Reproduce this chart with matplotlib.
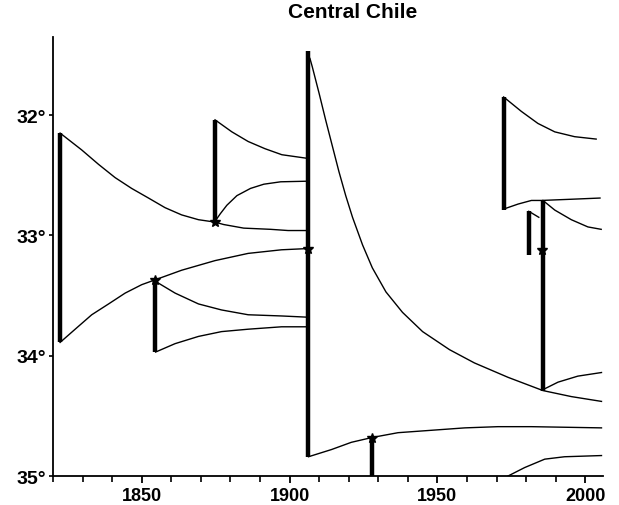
import matplotlib
matplotlib.use("Agg")
import matplotlib.pyplot as plt
from matplotlib.ticker import MultipleLocator

# -----------------------------------------------------
# DATA
# -----------------------------------------------------

# rupture zones: year, north end, south end (latitude, degrees S)
rupture_years = [1822.4, 1854.5, 1874.8, 1906.2, 1927.9, 1972.4, 1980.9, 1985.7]
rupture_north = [32.15, 33.37, 32.04, 31.47, 34.68, 31.85, 32.80, 32.71]
rupture_south = [33.89, 33.97, 32.89, 34.84, 35.05, 32.79, 33.16, 34.29]

# epicentres
star_years = [1854.5, 1874.8, 1906.2, 1927.9, 1985.5]
star_lats = [33.37, 32.89, 33.11, 34.68, 33.12]

# curves growing from rupture ends
c1822_top_x = [1822.4, 1829.7, 1835.4, 1841.0, 1846.6, 1852.3, 1857.9, 1863.5, 1869.2, 1874.8]
c1822_top_y = [32.15, 32.29, 32.41, 32.52, 32.61, 32.69, 32.77, 32.83, 32.87, 32.89]

c1875_star_x = [1874.8, 1877.7, 1884.5, 1893.6, 1899.5, 1906.0]
c1875_star_y = [32.89, 32.91, 32.94, 32.95, 32.96, 32.96]

c1875_up_x = [1874.9, 1876.6, 1878.8, 1882.2, 1886.8, 1891.3, 1897.0, 1906.0]
c1875_up_y = [32.88, 32.82, 32.75, 32.67, 32.61, 32.575, 32.555, 32.55]

c1875_top_x = [1874.8, 1880.5, 1886.0, 1891.7, 1897.4, 1906.0]
c1875_top_y = [32.04, 32.14, 32.22, 32.28, 32.33, 32.36]

c1822_bot_x = [1822.4, 1827.5, 1833.1, 1838.8, 1844.4, 1850.0, 1854.5,
               1863.5, 1874.8, 1886.0, 1897.3, 1906.0]
c1822_bot_y = [33.89, 33.78, 33.66, 33.57, 33.48, 33.41, 33.37,
               33.29, 33.21, 33.15, 33.12, 33.11]

c1855_star_x = [1854.5, 1861.3, 1869.2, 1877.0, 1886.0, 1897.3, 1906.0]
c1855_star_y = [33.38, 33.48, 33.57, 33.62, 33.66, 33.67, 33.68]

c1855_bot_x = [1854.7, 1861.3, 1869.2, 1877.0, 1886.0, 1897.3, 1906.0]
c1855_bot_y = [33.97, 33.90, 33.84, 33.80, 33.78, 33.76, 33.76]

c1906_top_x = [1906.9, 1907.7, 1910.0, 1912.2, 1914.5, 1916.7, 1919.0, 1921.3, 1924.7,
               1928.0, 1932.6, 1938.2, 1945.0, 1954.1, 1962.5, 1973.9, 1985.7,
               1995.3, 2005.5]
c1906_top_y = [31.53, 31.60, 31.82, 32.04, 32.26, 32.47, 32.67, 32.85, 33.08,
               33.27, 33.47, 33.64, 33.80, 33.95, 34.06, 34.18, 34.29,
               34.34, 34.38]

c1906_bot_x = [1906.4, 1914.2, 1920.9, 1927.9, 1936.7, 1948.0, 1959.3, 1970.5, 1981.8, 2005.5]
c1906_bot_y = [34.84, 34.78, 34.72, 34.68, 34.64, 34.62, 34.60, 34.59, 34.59, 34.60]

c_south_x = [1973.9, 1979.5, 1986.3, 1993.0, 2005.5]
c_south_y = [35.00, 34.93, 34.86, 34.84, 34.83]

c1985_bot_x = [1985.9, 1990.8, 1997.5, 2005.5]
c1985_bot_y = [34.28, 34.22, 34.17, 34.14]

c1971_top_x = [1972.4, 1978.4, 1984.0, 1989.7, 1996.4, 2003.7]
c1971_top_y = [31.85, 31.97, 32.07, 32.14, 32.18, 32.20]

c1971_bot_x = [1972.6, 1977.3, 1981.8, 1985.2, 1995.3, 2005.0]
c1971_bot_y = [32.78, 32.74, 32.71, 32.71, 32.70, 32.69]

c1985_top_x = [1985.7, 1989.7, 1995.3, 2000.9, 2005.4]
c1985_top_y = [32.71, 32.79, 32.87, 32.93, 32.95]

c1981_top_x = [1980.9, 1984.3]
c1981_top_y = [32.80, 32.85]

curves = [
    (c1822_top_x, c1822_top_y), (c1875_star_x, c1875_star_y),
    (c1875_up_x, c1875_up_y), (c1875_top_x, c1875_top_y),
    (c1822_bot_x, c1822_bot_y), (c1855_star_x, c1855_star_y),
    (c1855_bot_x, c1855_bot_y), (c1906_top_x, c1906_top_y),
    (c1906_bot_x, c1906_bot_y), (c_south_x, c_south_y),
    (c1985_bot_x, c1985_bot_y), (c1971_top_x, c1971_top_y),
    (c1971_bot_x, c1971_bot_y), (c1985_top_x, c1985_top_y),
    (c1981_top_x, c1981_top_y),
]

lat_ticks = [32, 33, 34, 35]
lat_labels = ["32°", "33°", "34°", "35°"]
year_ticks = [1850, 1900, 1950, 2000]

# -----------------------------------------------------
# PLOT
# -----------------------------------------------------

plt.rcParams["font.family"] = ["Liberation Sans", "DejaVu Sans"]
plt.rcParams["font.weight"] = "bold"

fig = plt.figure(figsize=(6.19, 5.06), dpi=100)
ax = fig.add_axes([0.0856, 0.0573, 0.8885, 0.868])

for x, y in curves:
    ax.plot(x, y, color="black", lw=1.0, solid_joinstyle="round", zorder=2)

ax.vlines(rupture_years, rupture_north, rupture_south, color="black", lw=3.2, zorder=3)
ax.plot(star_years, star_lats, "*", color="black", ms=7, zorder=4)

ax.set_xlim(1820, 2006)
ax.set_ylim(35, 31.35)

ax.set_xticks(year_ticks)
ax.xaxis.set_minor_locator(MultipleLocator(10))
ax.set_yticks(lat_ticks)
ax.set_yticklabels(lat_labels)

for side in ["top", "right"]:
    ax.spines[side].set_visible(False)
for side in ["left", "bottom"]:
    ax.spines[side].set_linewidth(1.3)

ax.tick_params(axis="x", which="major", length=5, width=1.3, pad=3, labelsize=13)
ax.tick_params(axis="x", which="minor", length=4, width=1.2)
ax.tick_params(axis="y", which="major", length=3, width=1.2, pad=2, labelsize=14)

fig.text(0.569, 0.976, "Central Chile", ha="center", va="center",
         fontsize=15, fontweight="bold")

fig.savefig("out.png", dpi=100)
